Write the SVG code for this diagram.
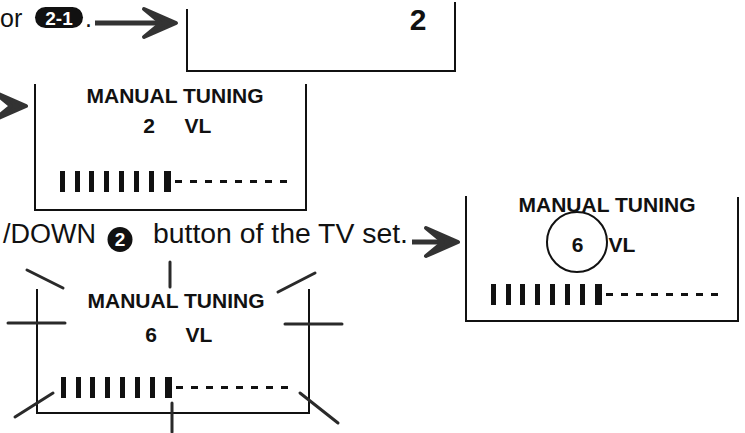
<svg xmlns="http://www.w3.org/2000/svg" xmlns:xlink="http://www.w3.org/1999/xlink" width="745" height="433" viewBox="0 0 745 433">
<style>
.frame{fill:none;stroke:#111;stroke-width:2;stroke-linecap:square}
.instr{font-family:"Liberation Sans",Arial,sans-serif;font-size:27px;fill:#111}
.scr{font-family:"Liberation Sans",Arial,sans-serif;font-size:21px;font-weight:bold;fill:#111}
.big{font-size:30px}
.small{font-size:25px}
.badgeTxt{font-family:"Liberation Sans",Arial,sans-serif;font-weight:bold;font-size:19px;fill:#fff;text-anchor:middle}
.shaft{stroke:#333;stroke-width:5;fill:none}
.head{fill:#333;stroke:#333;stroke-width:4;stroke-linejoin:round}
.tick{stroke:#2a2a2a;stroke-width:3;fill:none;stroke-linecap:round}
</style>
<defs>
<g id="meter">
<rect x="0" y="0" width="5" height="21" fill="#111"/>
<rect x="15" y="0" width="5" height="21" fill="#111"/>
<rect x="29" y="0" width="5" height="21" fill="#111"/>
<rect x="44" y="0" width="5" height="21" fill="#111"/>
<rect x="59" y="0" width="5" height="21" fill="#111"/>
<rect x="74" y="0" width="5" height="21" fill="#111"/>
<rect x="89" y="0" width="5" height="21" fill="#111"/>
<rect x="104" y="0" width="7" height="21" fill="#111"/>
<line x1="115" y1="10.5" x2="230" y2="10.5" stroke="#111" stroke-width="3" stroke-dasharray="7 8"/>
</g>
<path id="ahead" d="M0,0 L-32,-14 L-15,0 L-32,14 Z"/>
</defs>

<g id="text-top">
<text class="instr small" x="0" y="27">or</text>
<rect x="35" y="7" width="48" height="21" rx="10.5" fill="#111"/>
<text class="badgeTxt" x="59" y="24.5">2-1</text>
<text class="instr small" x="85" y="27">.</text>
</g>

<g id="text-middle">
<text class="instr" x="3" y="243">/DOWN</text>
<circle cx="120" cy="239.5" r="12.5" fill="#111"/>
<text class="badgeTxt" x="120" y="246">2</text>
<text class="instr" x="153" y="243" textLength="255" lengthAdjust="spacingAndGlyphs">button of the TV set.</text>
</g>

<g id="box-top">
<path class="frame" d="M187,10 V71 H455 V3"/>
<text class="scr big" x="418" y="30" text-anchor="middle">2</text>
</g>

<g id="box-middle">
<path class="frame" d="M35,85 V210 H306 V85"/>
<text class="scr" x="175" y="103" text-anchor="middle">MANUAL TUNING</text>
<text class="scr" x="149" y="133" text-anchor="middle">2</text>
<text class="scr" x="198" y="133" text-anchor="middle">VL</text>
<use href="#meter" x="60" y="171"/>
</g>

<g id="box-right">
<path class="frame" d="M466,197 V321 H738 V198"/>
<text class="scr" x="607" y="212" text-anchor="middle">MANUAL TUNING</text>
<circle cx="577" cy="242" r="30" fill="none" stroke="#111" stroke-width="2"/>
<text class="scr" x="577.5" y="252" text-anchor="middle">6</text>
<text class="scr" x="622" y="252" text-anchor="middle">VL</text>
<use href="#meter" x="491" y="284"/>
</g>

<g id="box-bottom">
<path class="frame" d="M37,290 V413 H309 V290"/>
<text class="scr" x="176" y="308" text-anchor="middle">MANUAL TUNING</text>
<text class="scr" x="151" y="342" text-anchor="middle">6</text>
<text class="scr" x="199" y="342" text-anchor="middle">VL</text>
<use href="#meter" x="61" y="377"/>
<g id="flash-ticks">
<line class="tick" x1="27" y1="270" x2="63" y2="288"/>
<line class="tick" x1="170" y1="262" x2="170" y2="287"/>
<line class="tick" x1="278" y1="292" x2="315" y2="273"/>
<line class="tick" x1="8" y1="323" x2="65" y2="323"/>
<line class="tick" x1="285" y1="324" x2="342" y2="324"/>
<line class="tick" x1="15" y1="417" x2="53" y2="393"/>
<line class="tick" x1="300" y1="393" x2="338" y2="423"/>
<line class="tick" x1="172" y1="403" x2="172" y2="432"/>
</g>
</g>

<g id="connectors">
<line class="shaft" x1="95" y1="23" x2="160" y2="23"/>
<use href="#ahead" class="head" transform="translate(176,23)"/>
<use href="#ahead" class="head" transform="translate(26,106)"/>
<line class="shaft" x1="412" y1="242" x2="442" y2="242"/>
<use href="#ahead" class="head" transform="translate(458,242)"/>
</g>
</svg>
